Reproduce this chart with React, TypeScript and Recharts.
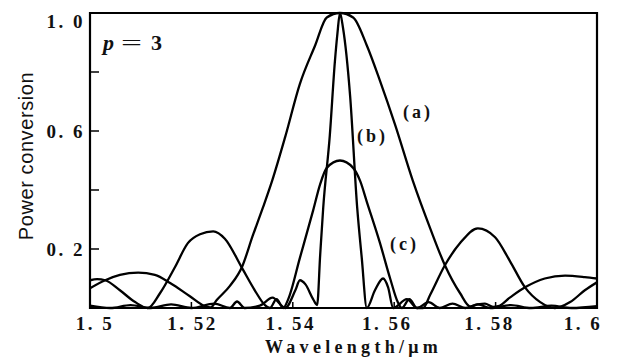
import React from "react";
import { LineChart, Line, XAxis, YAxis, ReferenceArea } from "recharts";

// curve (a)
const WL_A = [1.5, 1.503, 1.5059, 1.5095, 1.5128, 1.5158, 1.5197, 1.5227, 1.5238, 1.525, 1.5276, 1.53, 1.5321, 1.5341, 1.5359, 1.5385, 1.5414, 1.5444, 1.5467, 1.5493, 1.5519, 1.5546, 1.5572, 1.5602, 1.5637, 1.5671, 1.57, 1.573, 1.575, 1.5765, 1.5779, 1.5795, 1.5805, 1.5828, 1.5858, 1.5897, 1.5937, 1.5976, 1.6];
const PC_A = [0.067, 0.094, 0.112, 0.12, 0.112, 0.085, 0.04, 0.006, 0.002, 0.027, 0.075, 0.14, 0.245, 0.34, 0.43, 0.58, 0.76, 0.89, 0.985, 1.0, 0.985, 0.89, 0.77, 0.62, 0.43, 0.27, 0.145, 0.05, 0.005, 0.012, 0.015, 0.004, 0.006, 0.035, 0.07, 0.1, 0.11, 0.105, 0.1];

// curve (b)
const WL_B = [1.5, 1.504, 1.508, 1.512, 1.516, 1.52, 1.5245, 1.5276, 1.529, 1.5305, 1.5335, 1.536, 1.5385, 1.5405, 1.5414, 1.5425, 1.544, 1.5448, 1.5454, 1.546, 1.5473, 1.5483, 1.5488, 1.5493, 1.5499, 1.5513, 1.5527, 1.5536, 1.5546, 1.5562, 1.5578, 1.5588, 1.5598, 1.5625, 1.5645, 1.5668, 1.569, 1.5715, 1.574, 1.5765, 1.579, 1.583, 1.587, 1.591, 1.595, 1.6];
const PC_B = [0.008, 0.0, 0.01, 0.0, 0.012, 0.0, 0.015, 0.0, 0.022, 0.0, 0.008, 0.035, 0.0, 0.06, 0.094, 0.08, 0.03, 0.01, 0.18, 0.34, 0.585, 0.835, 0.93, 1.0, 0.95, 0.72, 0.34, 0.17, 0.0, 0.06, 0.1, 0.07, 0.0, 0.03, 0.0, 0.02, 0.0, 0.015, 0.0, 0.012, 0.0, 0.01, 0.0, 0.008, 0.0, 0.006];

// curve (c)
const WL_C = [1.5, 1.5014, 1.503, 1.5059, 1.5089, 1.5114, 1.5138, 1.5168, 1.5193, 1.5217, 1.5243, 1.5266, 1.53, 1.5325, 1.5345, 1.5355, 1.5368, 1.5381, 1.5391, 1.5414, 1.544, 1.5454, 1.5467, 1.5493, 1.5519, 1.5533, 1.5546, 1.5572, 1.5592, 1.5607, 1.5615, 1.563, 1.5645, 1.5657, 1.5671, 1.57, 1.573, 1.5765, 1.5799, 1.5828, 1.5858, 1.5888, 1.5917, 1.5947, 1.5976, 1.6];
const PC_C = [0.094, 0.098, 0.094, 0.06, 0.02, 0.0, 0.05, 0.14, 0.22, 0.25, 0.26, 0.235, 0.135, 0.06, 0.01, 0.0, 0.03, 0.0, 0.03, 0.17, 0.33, 0.42, 0.475, 0.5, 0.475, 0.43, 0.36, 0.22, 0.1, 0.02, 0.0, 0.03, 0.0, 0.0, 0.045, 0.145, 0.22, 0.27, 0.24, 0.16, 0.07, 0.02, 0.0, 0.02, 0.06, 0.087];

const X_TICKS = [1.5, 1.52, 1.54, 1.56, 1.58, 1.6];
const X_TICK_LABELS = ["1. 5", "1. 52", "1. 54", "1. 56", "1. 58", "1. 6"];
const X_LABEL_DX = [5, 1, -2, -7, -6, -14];
const Y_TICKS = [0.2, 0.4, 0.6, 0.8, 1.0];
const Y_TICK_LABELS = ["0. 2", "", "0. 6", "", "1. 0"];

const toData = (xs: number[], ys: number[]) => xs.map((x, i) => ({ x, y: ys[i] }));
const dataA = toData(WL_A, PC_A);
const dataB = toData(WL_B, PC_B);
const dataC = toData(WL_C, PC_C);

const SERIF = "'Liberation Serif', 'Times New Roman', serif";
const SANS = "'Liberation Sans', Arial, sans-serif";

const XTick = (props: any) => {
  const { x, y, payload } = props;
  const idx = X_TICKS.findIndex((t) => Math.abs(t - payload.value) < 1e-9);
  const label = idx >= 0 ? X_TICK_LABELS[idx] : "";
  const inner = idx > 0 && idx < X_TICKS.length - 1;
  return (
    <g>
      {inner && <line x1={x} y1={y} x2={x} y2={y - 6} stroke="#000" strokeWidth={1.5} />}
      <text x={x + (idx >= 0 ? X_LABEL_DX[idx] : 0)} y={y + 22} textAnchor="middle" fontFamily={SERIF} fontSize={19} fontWeight="bold" letterSpacing={2.5} fill="#111">
        {label}
      </text>
    </g>
  );
};

const YTick = (props: any) => {
  const { x, y, payload } = props;
  const idx = Y_TICKS.findIndex((t) => Math.abs(t - payload.value) < 1e-9);
  const label = idx >= 0 ? Y_TICK_LABELS[idx] : "";
  const isTop = idx === Y_TICKS.length - 1;
  return (
    <g>
      {!isTop && <line x1={x} y1={y} x2={x + 9} y2={y} stroke="#000" strokeWidth={1.5} />}
      <text x={x - 5} y={y + (isTop ? 15 : 7)} textAnchor="end" fontFamily={SERIF} fontSize={19} fontWeight="bold" letterSpacing={2.5} fill="#111">
        {label}
      </text>
    </g>
  );
};

export default function App() {
  return (
    <div style={{ position: "relative", width: 609, height: 350 }}>
      <LineChart width={609} height={350} margin={{ top: 5, right: 20, left: 0, bottom: 0 }}>
        <XAxis
          type="number"
          dataKey="x"
          domain={[1.5, 1.6]}
          ticks={X_TICKS}
          allowDataOverflow
          height={50}
          axisLine={false}
          tickLine={false}
          tickSize={0}
          tickMargin={0}
          tick={<XTick />}
          interval={0}
        />
        <YAxis
          type="number"
          dataKey="y"
          domain={[0, 1]}
          ticks={Y_TICKS}
          width={82}
          axisLine={false}
          tickLine={false}
          tickSize={0}
          tickMargin={0}
          tick={<YTick />}
          interval={0}
        />
        <ReferenceArea x1={1.5} x2={1.6} y1={0} y2={1} fill="none" stroke="#000" strokeWidth={2.2} ifOverflow="visible" />
        <Line data={dataA} dataKey="y" type="monotone" stroke="#000" strokeWidth={2.3} dot={false} isAnimationActive={false} />
        <Line data={dataB} dataKey="y" type="monotone" stroke="#000" strokeWidth={2.3} dot={false} isAnimationActive={false} />
        <Line data={dataC} dataKey="y" type="monotone" stroke="#000" strokeWidth={2.3} dot={false} isAnimationActive={false} />
      </LineChart>
      <svg width={609} height={350} style={{ position: "absolute", left: 0, top: 0, pointerEvents: "none" }}>
        <text x={95} y={42} fontFamily={SERIF} fontSize={22} fill="#111">
          <tspan fontStyle="italic" fontWeight="bold">p</tspan>
        </text>
        <text x={113} y={42} fontFamily={SERIF} fontSize={22} fill="#111" textLength={21} lengthAdjust="spacingAndGlyphs">=</text>
        <text x={143} y={42} fontFamily={SERIF} fontSize={22} fontWeight="bold" fill="#111">3</text>
        <text x={395} y={110} fontFamily={SERIF} fontSize={18} fontWeight="bold" letterSpacing={3} fill="#111">(a)</text>
        <text x={349} y={134} fontFamily={SERIF} fontSize={18} fontWeight="bold" letterSpacing={3} fill="#111">(b)</text>
        <text x={382} y={242} fontFamily={SERIF} fontSize={18} fontWeight="bold" letterSpacing={3} fill="#111">(c)</text>
        <text x={257} y={345} fontFamily={SERIF} fontSize={18} fontWeight="bold" letterSpacing={4.3} fill="#111">Wavelength/μm</text>
        <text x={25} y={148} fontFamily={SANS} fontSize={20} letterSpacing={0.6} fill="#111" textAnchor="middle" transform="rotate(-90, 25, 148)">Power conversion</text>
      </svg>
    </div>
  );
}
